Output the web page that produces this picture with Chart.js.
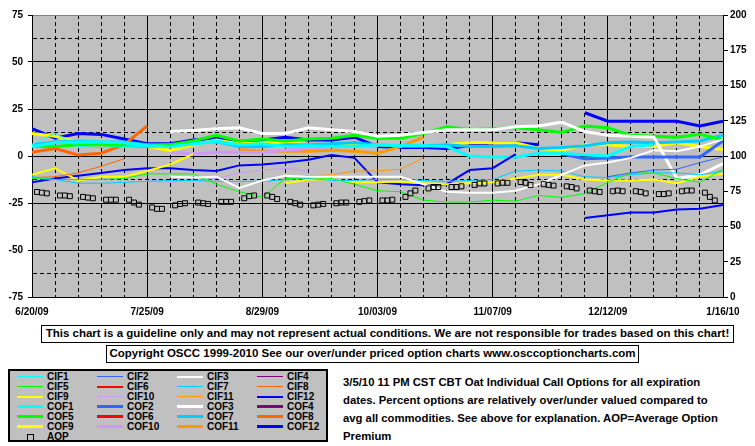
<!DOCTYPE html>
<html>
<head>
<meta charset="utf-8">
<script src="https://cdn.jsdelivr.net/npm/chart.js@4.4.0/dist/chart.umd.min.js"></script>
<style>
  body { margin: 0; background: #fff; }
  #wrap { position: relative; width: 755px; height: 446px; overflow: hidden;
    font-family: "Liberation Sans", Arial, sans-serif; font-weight: bold; color: #000; }
  #chartBox { position: absolute; left: 0; top: 0; width: 755px; height: 320px; }
  .note { position: absolute; border: 1px solid #000; box-sizing: border-box; font-size: 11.5px;
    line-height: 15px; text-align: center; white-space: nowrap; background: #fff; }
  #legendBox { position: absolute; left: 8px; top: 369px; width: 320px; height: 73px;
    box-sizing: border-box; border: 2px solid #000; background: #c0c0c0; }
  .item { position: absolute; height: 10px; width: 80px; font-size: 10px; line-height: 10px; white-space: nowrap; }
  .swatch { position: absolute; left: 0; width: 26px; }
  .txt { position: absolute; left: 30px; top: 0; }
  #desc { position: absolute; left: 343px; top: 373px; font-size: 11.3px; line-height: 18px; white-space: nowrap; }
</style>
</head>
<body>
<div id="wrap">
  <div id="chartBox"><canvas id="oatChart"></canvas></div>
  <div class="note" style="left:41px;top:325px;width:693px;height:18px;">This chart is a guideline only and may not represent actual conditions. We are not responsible for trades based on this chart!</div>
  <div class="note" style="left:106px;top:345px;width:533px;height:18px;">Copyright OSCC 1999-2010 See our over/under priced option charts www.osccoptioncharts.com</div>
  <div id="legendBox"></div>
  <div id="desc">3/5/10 11 PM CST CBT Oat Individual Call Options for all expiration<br>dates. Percent options are relatively over/under valued compared to<br>avg all commodities. See above for explanation. AOP=Average Option<br>Premium</div>
</div>
<script>
// x axis: days since 6/20/09, one value per week
const weekDays = [0, 7, 14, 21, 28, 35, 42, 49, 56, 63, 70, 77, 84, 91, 98, 105,
  112, 119, 126, 133, 140, 147, 154, 161, 168, 175, 182, 189, 196, 203, 210];
const dateLabels = ["6/20/09", "7/25/09", "8/29/09", "10/03/09", "11/07/09", "12/12/09", "1/16/10"];

// percent over/under valued (left axis)
const cif1 = [6, 12, 5, 4.5, 5, 5, 5, 6, 7, 5.5];
const cif2 = [null, null, null, null, null, null, null, null, null, null, null, null, null, null, null, null,
  null, null, null, null, null, null, null, null, null, -11, -9, -7.5, -7, -3.5, -0.5];
const cif3 = [null, null, null, null, null, null, -11, -11.5, -11, -17, -13, -10.5, -11, -11, -11, -11,
  -11, -15, -19, -19.5, -19.5, -18.5, -15, -10, -5, -3.5, -1, 3, 2.5, 5, 9];
const cif4 = [];
const cif5 = [-12, -12.5, -12.5, -12.5, -12, -9.5, -9.5, -9.5, -15, -19, -22, -12, -11.5, -12, -15, -18.5,
  -19, -23.5, -24.5, -24.5, -23.5, -24, -21, -22, -20, -14, -9, -9, -12, -14, -7];
const cif6 = [];
const cif7 = [-11, -12.5, -14.5, -14.5, -14, -13.5, -13, -13, -13.5, -13.5, -13.5, -12.5, -12, -13, -13, -12.5,
  -12.5, -13, -13.5, -13, -12.5, -8, -7.5, -8, -11, -11.5, -10, -9, -9, -10, -8];
const cif8 = [-11.5, -11, -9, -5.5, -1.5];
const cif9 = [-10, -6.5, -13, -11, -11, -8, -4.5, 1, null, null, null, -14.5, -12.5, -12.5, -14, -14,
  -13.5, -14.5, -15, -14.5, -14, -12, -10, -10, -12.5, -13, -13, -12.5, -14.5, -11, -9.5];
const cif10 = [null, null, null, null, null, -13, -14, -13, -12, -9, -7.5, -6.5, -8];
const cif11 = [null, null, null, null, null, null, null, null, null, null, null, -11, -10.5, -10, -8, -8,
  -7, -1];
const cif12 = [-14, -12, -10.5, -9, -7.5, -6.5, -6.5, -7.5, -8, -5, -4.5, -3.5, -2, 0.5, -1, -14,
  -15, -15.5, -15, -7.5, -6.5, 1, null, null, -33, -31.5, -30, -30, -28.5, -28, -26];
const cof1 = [5, 7, 7.5, 7.5, 7, 5.5, 5, 6.5, 8, 6, 6.5, 5, 5.5, 5, 5, 6,
  5.5, 5.5, 5, 0, -0.5, -0.5, 1.5, 1.5, 0.5, 0, 5, 6];
const cof2 = [null, null, null, null, null, null, null, null, null, null, null, null, null, null, null, null,
  null, null, null, null, null, null, null, 1, -1.5, -1, -0.5, -0.5, -0.5, -0.5, 8];
const cof3 = [null, null, null, null, null, null, 13, 13.5, 14.5, 15, 12, 12, 15, 14, 13, 10.5,
  11, 12.5, 14, 14, 14, 15.5, 16, 18, 13, 11, 10.5, 10, -12, -10, -4];
const cof4 = [];
const cof5 = [5, 5, 6, 6, 5.5, 5, 6, 8, 11, 8, 9, 8, 9, 9.5, 11, 9.5,
  9.5, 12, 15.5, 14, 14.5, 15, 14, 12.5, 16, 15, 11, 10.5, 10, 11.5, 8.5];
const cof6 = [];
const cof7 = [6, 7.5, 8, 7.5, 7.5, 6, 6, 7, 7.5, 5, 5, 6, 6, 6.5, 7, 6,
  5.5, 5.5, 6, 5, 5, 5.5, 4, 4.5, 5.5, 7, 7.5, 7, 7.5, 8, 11];
const cof8 = [2, 4, 0.5, 1.5, 6, 16];
const cof9 = [12, 10.5, 7.5, 6, 6.5, 5, 3, 6, 8.5, 6.5, 7, 7, 6, 5, 6, 6,
  5.5, 5.5, 6, 7, 7, 7, 4, 3, 6, 6, 5, 5, 7, 5, 3.5];
const cof10 = [null, null, null, null, null, null, 2, 1, 2, 2, 2, 3, 4, 5, 6, 5];
const cof11 = [null, null, null, null, null, null, null, null, null, 3.5, 2.5, 2.5, 2.5, 3, 2.5, 1.5,
  5, 10];
const cof12 = [14.5, 9.5, 12, 11.5, 9, 6.5, 6.5, 8.5, 9.5, 7, 8.5, 10, 8.5, 8.5, 10, 5,
  4.5, 4.5, 4, 5.5, 7, 7, 6, null, 23, 18.5, 18.5, 18.5, 18.5, 16, 18.5];

// average option premium (right axis), three readings per week
const aopValues = [
  74.5, 74, 73.5, 72, 72, 71.5, 71, 70.5, 70, 69, 69, 69, 69, 67, 65.5,
  63.5, 62.5, 62.5, 65, 66, 66.5, 67, 66.5, 66, 67.5, 67.5, 67.5, 70, 71.5, 72,
  72, 71, 69.5, 67.5, 66.5, 65.5, 65, 65.5, 66, 66.5, 67, 67, 67.5, 68, 68.5,
  68.5, 68.5, 69, 71, 73.5, 75.5, 77, 78, 78, 78, 78, 78.5, 79.5, 80.5, 80.5,
  80.5, 81, 81, 81.5, 81, 79.5, 80, 79.5, 79, 78.5, 78, 77, 75.5, 75, 74.5,
  75, 75.5, 75, 75, 74.5, 73.5, 73, 73, 73.5, 75, 75.5, 75.5, 74, 71, 68.5
];
const aopDays = weekDays.slice(0, 30).flatMap((d) => [d + 1.5, d + 3, d + 4.5]);

const colors = ["#00FFFF", "#3366FF", "#FFFFFF", "#800080", "#00FF00", "#FF0000",
  "#00CCFF", "#FF6600", "#FFFF00", "#CC99FF", "#FF9900", "#0000FF"];
const cifData = [cif1, cif2, cif3, cif4, cif5, cif6, cif7, cif8, cif9, cif10, cif11, cif12];
const cofData = [cof1, cof2, cof3, cof4, cof5, cof6, cof7, cof8, cof9, cof10, cof11, cof12];

const pts = (ys) => ys.map((y, i) => ({ x: weekDays[i], y: y }));

const datasets = [];
cifData.forEach((ys, i) => {
  datasets.push({ label: "CIF" + (i + 1), data: pts(ys), borderColor: colors[i],
    backgroundColor: colors[i], borderWidth: (i === 2 || i === 5 || i === 8 || i === 11) ? 2 : 1,
    pointRadius: 0, yAxisID: "y", order: 1 });
});
cofData.forEach((ys, i) => {
  datasets.push({ label: "COF" + (i + 1), data: pts(ys), borderColor: colors[i],
    backgroundColor: colors[i], borderWidth: 3, pointRadius: 0, yAxisID: "y", order: 1 });
});
datasets.push({ label: "AOP", data: aopValues.map((v, i) => ({ x: aopDays[i], y: v })),
  showLine: false, pointStyle: "rect", pointRadius: 3.5, borderColor: "#000", borderWidth: 1,
  backgroundColor: "rgba(0,0,0,0)", yAxisID: "yR", order: 0 });

// grey plot area
const plotBg = {
  id: "plotBg",
  beforeDraw(chart) {
    const { ctx, chartArea: a } = chart;
    ctx.save();
    ctx.fillStyle = "#c0c0c0";
    ctx.fillRect(a.left, a.top, a.right - a.left, a.bottom - a.top);
    ctx.restore();
  },
};

Chart.defaults.font.family = '"Liberation Sans", Arial, sans-serif';
Chart.defaults.font.size = 10;
Chart.defaults.font.weight = "bold";
Chart.defaults.color = "#000";

const minorDash = (step) => (c) => (c.tick && Math.abs(c.tick.value % step) > 0.001 ? [4, 3] : []);

const myChart = new Chart(document.getElementById("oatChart"), {
  type: "line",
  data: { datasets: datasets },
  plugins: [plotBg],
  options: {
    responsive: true,
    maintainAspectRatio: false,
    animation: false,
    layout: { padding: { top: 15, left: 0, right: 0, bottom: 0 } },
    plugins: { legend: { display: false }, tooltip: { enabled: false } },
    elements: { line: { tension: 0 } },
    scales: {
      x: {
        type: "linear", min: 0, max: 210,
        ticks: { stepSize: 7, autoSkip: false, maxRotation: 0, padding: 9,
          callback: (v) => (v % 35 === 0 ? dateLabels[v / 35] : "") },
        grid: { color: "#000", lineWidth: 1, drawTicks: false },
        border: { color: "#000", dash: minorDash(35) },
        afterFit: (s) => { s.height = 23; },
      },
      y: {
        position: "left", min: -75, max: 75,
        ticks: { stepSize: 12.5, autoSkip: false, padding: 5,
          callback: (v) => (v % 25 === 0 ? v : "") },
        grid: {
          color: (c) => (c.tick && c.tick.value === 75 ? "#808080" : "#000"),
          tickColor: (c) => (c.tick && c.tick.value % 25 === 0 ? "#000" : "rgba(0,0,0,0)"),
          tickLength: 4, lineWidth: 1,
        },
        border: { color: "#000", dash: minorDash(25) },
        afterFit: (s) => { s.width = 32; },
      },
      yR: {
        position: "right", min: 0, max: 200,
        ticks: { stepSize: 25, autoSkip: false, padding: 2 },
        grid: { drawOnChartArea: false, tickLength: 5, tickColor: "#000" },
        border: { color: "#000" },
        afterFit: (s) => { s.width = 32; },
      },
    },
  },
});

// legend box laid out like the original: four columns, then AOP
const wrap = document.getElementById("wrap");
datasets.forEach((ds, n) => {
  const item = document.createElement("div");
  item.className = "item";
  const col = n < 24 ? n % 4 : 0;
  const row = Math.floor(n / 4);
  item.style.left = 17 + 80 * col + "px";
  item.style.top = 372 + 10 * row + "px";
  const sw = document.createElement("div");
  sw.className = "swatch";
  if (ds.label === "AOP") {
    sw.style.cssText = "position:absolute;left:10px;top:2px;width:5px;height:5px;border:1px solid #000;";
  } else {
    const h = ds.borderWidth;
    sw.style.height = h + "px";
    sw.style.top = 5 - Math.ceil(h / 2) + "px";
    sw.style.background = ds.borderColor;
  }
  const txt = document.createElement("span");
  txt.className = "txt";
  txt.textContent = ds.label;
  item.appendChild(sw);
  item.appendChild(txt);
  wrap.appendChild(item);
});
</script>
</body>
</html>
